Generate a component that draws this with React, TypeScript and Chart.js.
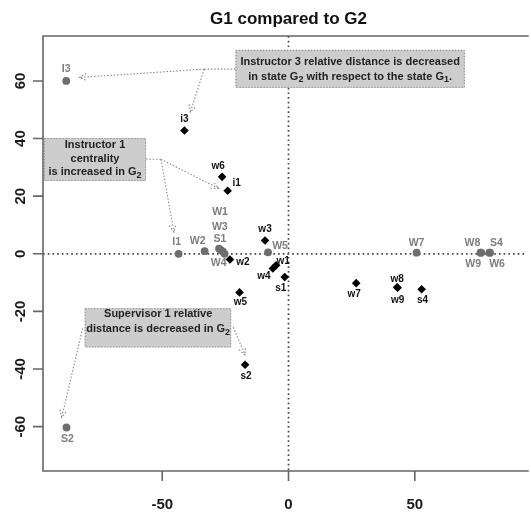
import React, { useEffect, useRef } from "react";
import { Chart, registerables } from "chart.js";

Chart.register(...registerables);

// ---- data ----
const g1Labels = ["I3", "I1", "W2", "W1", "W3", "S1", "W4", "W5", "W7", "W8", "W9", "S4", "W6", "S2"];
const g1X = [-88, -43.5, -33.2, -27.5, -26.8, -26, -25.3, -8.1, 50.7, 76, 76.3, 79.5, 79.8, -87.9];
const g1Y = [60, 0, 0.9, 1.8, 1.3, 0.8, 0, 0.5, 0.4, 0.4, 0.4, 0.4, 0.4, -60.3];

const g2Labels = ["i3", "w6", "i1", "w3", "w2", "w1", "w4", "s1", "w5", "s2", "w7", "w8", "w9", "s4"];
const g2X = [-41.2, -26.3, -24.1, -9.3, -23.2, -4.9, -6.2, -1.5, -19.4, -17.2, 26.8, 43, 43.2, 52.7];
const g2Y = [42.8, 26.7, 21.9, 4.6, -2, -4, -5.1, -8.1, -13.4, -38.5, -10.2, -11.6, -11.8, -12.3];

const xTicks = [-50, 0, 50];
const yTicks = [-60, -40, -20, 0, 20, 40, 60];

const titleText = "G1 compared to G2";

// ---- styling / annotation layout (not data) ----
const g1LabelOffsets: [number, number][] = [
  [0, -12], [-2, -12], [-7, -10], [1, -36], [-1, -23], [-3, -12], [-6, 9],
  [12, -6], [0, -10], [-8, -10], [-8, 11], [7, -10], [7, 11], [1, 12],
];
const g2LabelOffsets: [number, number][] = [
  [0, -11], [-4, -11], [9, -7], [0, -11], [13, 3], [7, -4], [-9, 8],
  [-4, 11], [1, 10], [1, 12], [-2, 11], [0, -8], [0, 12], [1, 11],
];

type Note = {
  lines: string[];
  box: [number, number, number, number]; // x1, y1, x2, y2 in data units
  center: [number, number];
  paths: { pts: [number, number][]; head: boolean }[];
};

const notes: Note[] = [
  {
    lines: ["Instructor 3 relative distance is decreased", "in state G_2 with respect to the state G_1."],
    box: [-21, 70.8, 69.8, 57.6],
    center: [24.4, 64.1],
    paths: [
      { pts: [[-21, 64.1], [-33.4, 64.1]], head: false },
      { pts: [[-33.4, 64.1], [-82.8, 61.2]], head: true },
      { pts: [[-33.4, 64.1], [-38.9, 49.1]], head: true },
    ],
  },
  {
    lines: ["Instructor 1", "centrality", "is increased in G_2"],
    box: [-96.8, 40.2, -56.4, 25.3],
    center: [-76.6, 33],
    paths: [
      { pts: [[-56.4, 32.8], [-50.5, 32.8]], head: false },
      { pts: [[-50.5, 32.8], [-27.7, 22.7]], head: true },
      { pts: [[-50.5, 32.8], [-45.4, 7.5]], head: true },
    ],
  },
  {
    lines: ["Supervisor 1 relative", "distance is decreased in G_2"],
    box: [-80.7, -18.9, -22.7, -32.5],
    center: [-51.6, -23.6],
    paths: [
      { pts: [[-21.9, -25.5], [-17.2, -35.1]], head: true },
      { pts: [[-81.5, -25.9], [-89.8, -56.8]], head: true },
    ],
  },
];

const FONT = '"Liberation Sans", Arial, Helvetica, sans-serif';

function drawRich(ctx: CanvasRenderingContext2D, text: string, cx: number, cy: number, size: number) {
  const parts: { t: string; sub: boolean }[] = [];
  const re = /_(\d)/g;
  let last = 0;
  let m: RegExpExecArray | null;
  while ((m = re.exec(text))) {
    if (m.index > last) parts.push({ t: text.slice(last, m.index), sub: false });
    parts.push({ t: m[1], sub: true });
    last = m.index + m[0].length;
  }
  if (last < text.length) parts.push({ t: text.slice(last), sub: false });
  const mainF = `bold ${size}px ${FONT}`;
  const subF = `bold ${Math.round(size * 0.8)}px ${FONT}`;
  let total = 0;
  const widths = parts.map((p) => {
    ctx.font = p.sub ? subF : mainF;
    const w = ctx.measureText(p.t).width;
    total += w;
    return w;
  });
  let x = cx - total / 2;
  ctx.textAlign = "left";
  ctx.textBaseline = "middle";
  parts.forEach((p, i) => {
    ctx.font = p.sub ? subF : mainF;
    ctx.fillText(p.t, x, p.sub ? cy + 3 : cy);
    x += widths[i];
  });
}

const overlay = {
  id: "overlay",
  beforeDatasetsDraw(chart: any) {
    const { ctx, chartArea: a, scales } = chart;
    const xs = scales.x, ys = scales.y;
    ctx.save();
    ctx.strokeStyle = "#4a4a4a";
    ctx.lineWidth = 1.7;
    ctx.setLineDash([1.7, 3]);
    const x0 = xs.getPixelForValue(0), y0 = ys.getPixelForValue(0);
    ctx.beginPath();
    ctx.moveTo(x0, a.top);
    ctx.lineTo(x0, a.bottom);
    ctx.moveTo(a.left, y0);
    ctx.lineTo(a.right, y0);
    ctx.stroke();
    ctx.restore();
  },
  afterDatasetsDraw(chart: any) {
    const { ctx, chartArea: a, scales } = chart;
    const xs = scales.x, ys = scales.y;
    const px = (v: number) => xs.getPixelForValue(v);
    const py = (v: number) => ys.getPixelForValue(v);
    ctx.save();

    // axes box (left, top, bottom)
    ctx.strokeStyle = "#666";
    ctx.lineWidth = 1.6;
    ctx.setLineDash([]);
    ctx.beginPath();
    ctx.moveTo(a.right + 2, a.top);
    ctx.lineTo(a.left, a.top);
    ctx.lineTo(a.left, a.bottom);
    ctx.lineTo(a.right + 2, a.bottom);
    ctx.stroke();

    // ticks
    ctx.beginPath();
    xTicks.forEach((t) => {
      const X = px(t);
      ctx.moveTo(X, a.bottom);
      ctx.lineTo(X, a.bottom + 10);
    });
    yTicks.forEach((t) => {
      const Y = py(t);
      ctx.moveTo(a.left, Y);
      ctx.lineTo(a.left - 10, Y);
    });
    ctx.stroke();

    ctx.fillStyle = "#1a1a1a";
    ctx.font = `bold 15px ${FONT}`;
    ctx.textAlign = "center";
    ctx.textBaseline = "middle";
    xTicks.forEach((t) => ctx.fillText(String(t), px(t), a.bottom + 34));
    yTicks.forEach((t) => {
      ctx.save();
      ctx.translate(a.left - 22, py(t));
      ctx.rotate(-Math.PI / 2);
      ctx.fillText(String(t), 0, 0);
      ctx.restore();
    });

    // title
    ctx.font = `bold 17px ${FONT}`;
    ctx.fillStyle = "#111";
    ctx.fillText(titleText, px(0), 19);

    // notes
    notes.forEach((n) => {
      const bx1 = px(n.box[0]), by1 = py(n.box[1]), bx2 = px(n.box[2]), by2 = py(n.box[3]);
      ctx.fillStyle = "#cdcdcd";
      ctx.fillRect(bx1, by1, bx2 - bx1, by2 - by1);
      ctx.strokeStyle = "#8a8a8a";
      ctx.lineWidth = 1;
      ctx.setLineDash([1.2, 1.8]);
      ctx.strokeRect(bx1 + 0.5, by1 + 0.5, bx2 - bx1 - 1, by2 - by1 - 1);

      ctx.fillStyle = "#222";
      const lh = n.lines.length > 2 ? 13.5 : 15;
      const cy = py(n.center[1]);
      const cx = px(n.center[0]);
      n.lines.forEach((l, i) => {
        drawRich(ctx, l, cx, cy + (i - (n.lines.length - 1) / 2) * lh, 11);
      });

      ctx.strokeStyle = "#8a8a8a";
      ctx.lineWidth = 1.1;
      ctx.setLineDash([1.5, 1.8]);
      n.paths.forEach((p) => {
        ctx.beginPath();
        p.pts.forEach((q, i) => {
          const X = px(q[0]), Y = py(q[1]);
          if (i === 0) ctx.moveTo(X, Y);
          else ctx.lineTo(X, Y);
        });
        ctx.stroke();
        if (p.head) {
          const q1 = p.pts[p.pts.length - 2], q2 = p.pts[p.pts.length - 1];
          const X1 = px(q1[0]), Y1 = py(q1[1]), X2 = px(q2[0]), Y2 = py(q2[1]);
          const ang = Math.atan2(Y2 - Y1, X2 - X1);
          const L = 8, sp = 0.45;
          ctx.beginPath();
          ctx.moveTo(X2 - L * Math.cos(ang - sp), Y2 - L * Math.sin(ang - sp));
          ctx.lineTo(X2, Y2);
          ctx.lineTo(X2 - L * Math.cos(ang + sp), Y2 - L * Math.sin(ang + sp));
          ctx.stroke();
        }
      });
    });
    ctx.setLineDash([]);

    // point labels
    ctx.textAlign = "center";
    ctx.textBaseline = "middle";
    ctx.font = `bold 10.5px ${FONT}`;
    ctx.fillStyle = "#7d7d7d";
    g1Labels.forEach((l, i) => {
      const o = g1LabelOffsets[i];
      ctx.fillText(l, px(g1X[i]) + o[0], py(g1Y[i]) + o[1]);
    });
    ctx.font = `bold 10px ${FONT}`;
    ctx.fillStyle = "#111";
    g2Labels.forEach((l, i) => {
      const o = g2LabelOffsets[i];
      ctx.fillText(l, px(g2X[i]) + o[0], py(g2Y[i]) + o[1]);
    });

    ctx.restore();
  },
};

export default function App() {
  const ref = useRef<HTMLCanvasElement | null>(null);
  useEffect(() => {
    if (!ref.current) return;
    const chart = new Chart(ref.current, {
      type: "scatter",
      data: {
        datasets: [
          {
            label: "G1",
            data: g1X.map((x, i) => ({ x, y: g1Y[i] })),
            pointStyle: "circle",
            pointRadius: 3.9,
            backgroundColor: "#6e6e6e",
            borderColor: "#6e6e6e",
            borderWidth: 0,
            clip: false as any,
          },
          {
            label: "G2",
            data: g2X.map((x, i) => ({ x, y: g2Y[i] })),
            pointStyle: "rectRot",
            pointRadius: 4.3,
            backgroundColor: "#000",
            borderColor: "#000",
            borderWidth: 0,
            clip: false as any,
          },
        ],
      },
      options: {
        responsive: false,
        animation: false,
        devicePixelRatio: 1,
        layout: { padding: { top: 36, left: 0, right: 0, bottom: 0 } },
        plugins: { legend: { display: false }, tooltip: { enabled: false }, title: { display: false } },
        scales: {
          x: {
            type: "linear",
            min: -97.2,
            max: 94.3,
            ticks: { display: false },
            grid: { display: false },
            border: { display: false },
            afterFit: (s: any) => {
              s.height = 42;
            },
          },
          y: {
            type: "linear",
            min: -75.4,
            max: 75.6,
            ticks: { display: false },
            grid: { display: false },
            border: { display: false },
            afterFit: (s: any) => {
              s.width = 43;
            },
          },
        },
      },
      plugins: [overlay],
    });
    return () => chart.destroy();
  }, []);
  return (
    <div style={{ position: "fixed", left: 0, top: 0, width: 531, height: 513, overflow: "hidden", background: "#fff" }}>
      <canvas ref={ref} width={531} height={513} style={{ display: "block" }} />
    </div>
  );
}
